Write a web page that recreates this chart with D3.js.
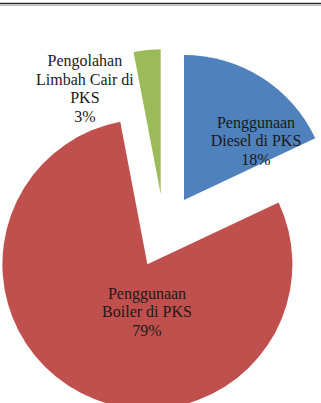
<!DOCTYPE html>
<html>
<head>
<meta charset="utf-8">
<script src="https://cdn.jsdelivr.net/npm/d3@7"></script>
<style>
  html, body { margin: 0; padding: 0; background: #fff; }
  svg { display: block; }
</style>
</head>
<body>
<div id="chart"></div>
<script>
const width = 321;
const height = 403;

// data, in drawing order starting at 12 o'clock
const categories = [
    ["Penggunaan", "Diesel di PKS"],
    ["Penggunaan", "Boiler di PKS"],
    ["Pengolahan", "Limbah Cair di", "PKS"]
];
const values = [18, 79, 3];
const percentLabels = ["18%", "79%", "3%"];
const colors = ["#4F81BD", "#C0504D", "#9BBB59"];

// layout
const cx = 164.2, cy = 231.2;
const radius = 145;
const explode = 37;
const lineHeight = 18.5;
// label anchor (middle of text block), polar from the slice apex: [degrees, distance]
const labelPolar = [[50.7, 93], [180.5, 48], [324.3, 130]];

const svg = d3.select("#chart").append("svg")
    .attr("width", width)
    .attr("height", height);

// frame line at the top
svg.append("line")
    .attr("x1", 0).attr("x2", width)
    .attr("y1", 3.5).attr("y2", 3.5)
    .attr("stroke", "#2a2a2a")
    .attr("stroke-width", 1.6);
svg.append("line")
    .attr("x1", 0).attr("x2", width)
    .attr("y1", 5.5).attr("y2", 5.5)
    .attr("stroke", "#bbb")
    .attr("stroke-width", 1);

const pie = d3.pie().sort(null).value(d => d)(values);
const arc = d3.arc().innerRadius(0).outerRadius(radius);

const g = svg.append("g").attr("transform", `translate(${cx},${cy})`);

function apex(d) {
    const mid = (d.startAngle + d.endAngle) / 2;
    return [explode * Math.sin(mid), -explode * Math.cos(mid)];
}

const slices = g.selectAll("g.slice")
    .data(pie)
    .join("g")
    .attr("class", "slice")
    .attr("transform", d => `translate(${apex(d)})`);

slices.append("path")
    .attr("d", arc)
    .attr("fill", (d, i) => colors[i]);

slices.each(function(d, i) {
    const a = labelPolar[i][0] * Math.PI / 180;
    const r = labelPolar[i][1];
    const lines = categories[i].concat([percentLabels[i]]);
    const x = r * Math.sin(a);
    const y = -r * Math.cos(a) - (lines.length - 1) * lineHeight / 2 + 5;
    const t = d3.select(this).append("text")
        .attr("x", x)
        .attr("y", y)
        .attr("text-anchor", "middle")
        .style("font-family", "'Liberation Serif', 'Times New Roman', serif")
        .style("font-size", "16px")
        .style("fill", "#1a1a1a");
    t.selectAll("tspan")
        .data(lines)
        .join("tspan")
        .attr("x", x)
        .attr("dy", (l, j) => j === 0 ? 0 : lineHeight)
        .text(l => l);
});
</script>
</body>
</html>
